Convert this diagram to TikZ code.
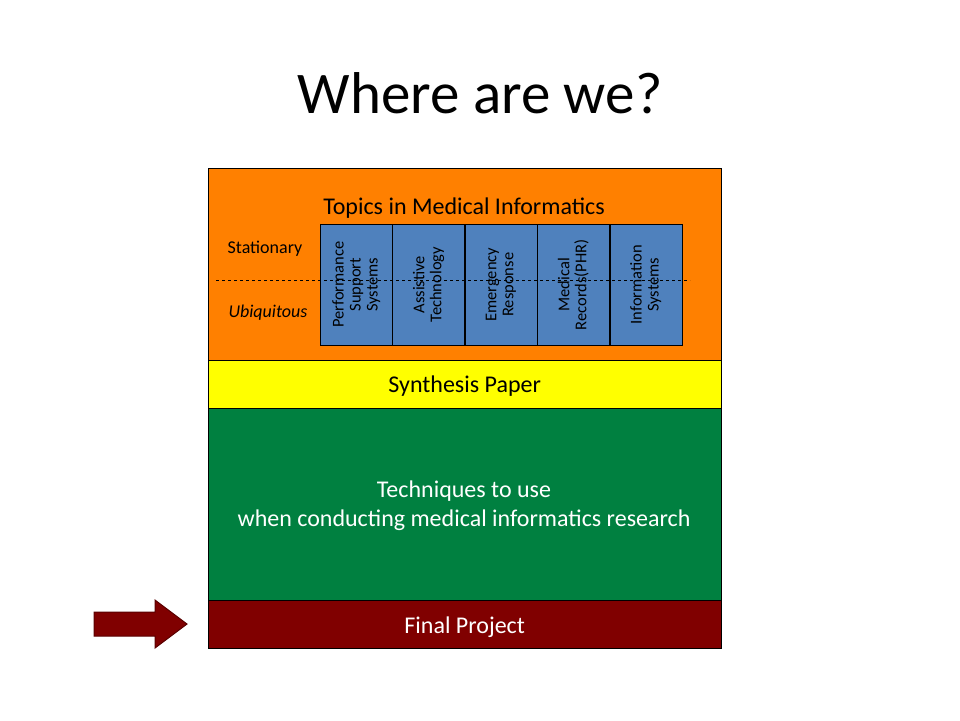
\documentclass[tikz,border=0pt]{standalone}
\usepackage{fontspec}
\setmainfont{Carlito}
\definecolor{topicorange}{RGB}{255,128,0}
\definecolor{synyellow}{RGB}{255,255,0}
\definecolor{techgreen}{RGB}{0,128,64}
\definecolor{projred}{RGB}{128,0,0}
\definecolor{colblue}{RGB}{79,129,189}
\tikzset{
  band/.style={draw=black, minimum width=513pt, anchor=north west, inner sep=0pt},
  topic/.style={draw=black, fill=colblue, minimum width=72pt, minimum height=121pt,
    anchor=north west, inner sep=0pt},
  topictext/.style={rotate=90, align=center, font=\fontsize{16.5}{17}\selectfont, text width=115pt}
}
\begin{document}
\begin{tikzpicture}[x=1pt, y=-1pt]
    \useasboundingbox[fill=white] (0,0) rectangle (960,720);
    \node (title) at (480,93) {\fontsize{59}{64}\selectfont Where are we?};

    \node[band, fill=topicorange, minimum height=192pt] (topics) at (208,168) {};
    \node[band, fill=synyellow, minimum height=48pt] (synth) at (208,360) {};
    \node[band, fill=techgreen, minimum height=192pt] (tech) at (208,408) {};
    \node[band, fill=projred, minimum height=48pt] (proj) at (208,600) {};

    \node (topicslabel) at (464,208) {\fontsize{24}{28}\selectfont Topics in Medical Informatics};
    \node at ([yshift=-2pt]synth.center) {\fontsize{24}{28}\selectfont Synthesis Paper};
    \node[align=center, text=white, font=\fontsize{24}{29}\selectfont] at (464,506)
      {Techniques to use\\when conducting medical informatics research};
    \node[text=white] at ([yshift=-3pt]proj.center) {\fontsize{24}{28}\selectfont Final Project};

    \node[topic] (c1) at (320,224) {};
    \node[topic] (c2) at (c1.north east) {};
    \node[topic] (c3) at (c2.north east) {};
    \node[topic] (c4) at (c3.north east) {};
    \node[topic] (c5) at (c4.north east) {};
    \node[topictext] at (c1.center) {Performance\\Support\\Systems};
    \node[topictext] at (c2.center) {Assistive\\Technology};
    \node[topictext] at (c3.center) {Emergency\\Response};
    \node[topictext] at (c4.center) {Medical\\Records(PHR)};
    \node[topictext] at (c5.center) {Information\\Systems};

    \coordinate (dashl) at (216,280);
    \coordinate (dashr) at (690,280);
    \draw[dashed, line width=0.8pt] (dashl) -- (dashr);
    \node (stat) at (265,249) {\fontsize{18}{22}\selectfont Stationary};
    \node (ubiq) at (268,313) {\fontsize{18}{22}\selectfont\itshape Ubiquitous};

    % pointer arrow
    \draw[draw=projred!70!black, fill=projred, line width=1pt]
      (94,612) -- (155,612) -- (155,600) -- (187,624) -- (155,648) -- (155,636) -- (94,636) -- cycle;
\end{tikzpicture}
\end{document}
